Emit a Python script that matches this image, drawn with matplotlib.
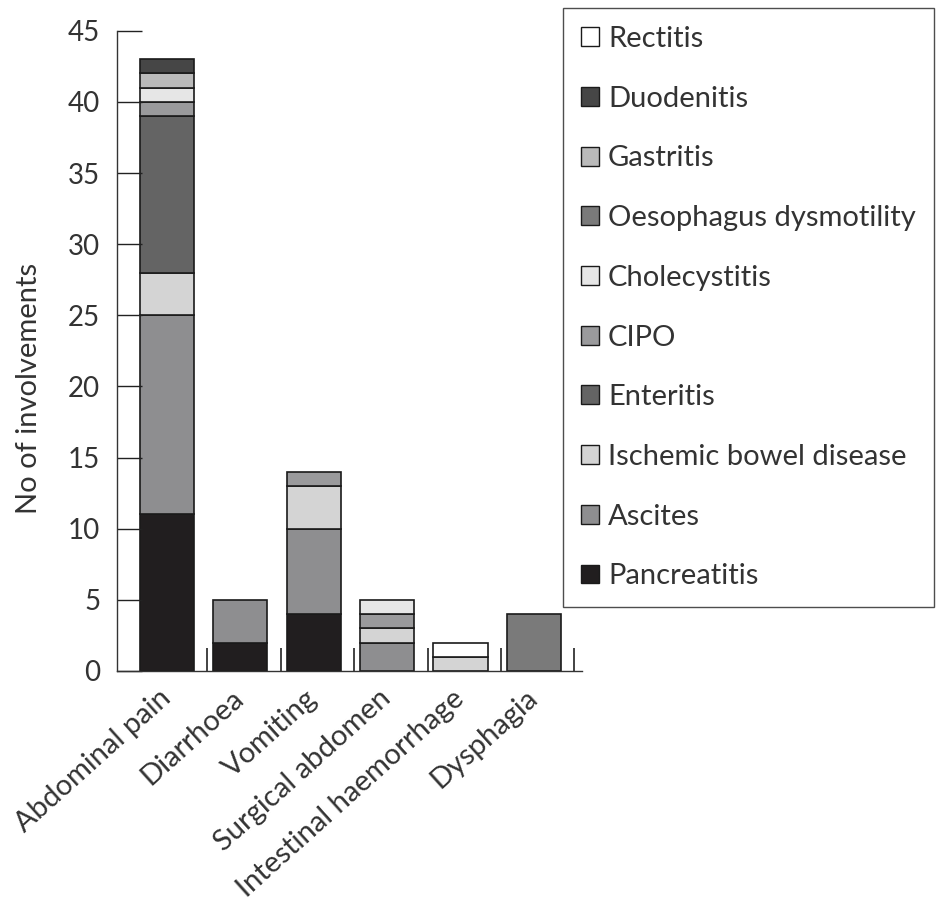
import numpy as np
import matplotlib
matplotlib.use("Agg")
from matplotlib import pyplot as plt
from matplotlib.patches import Patch

plt.rcParams['font.family'] = ['Lato', 'DejaVu Sans']

# categories on the x axis
categories = ['Abdominal pain', 'Diarrhoea', 'Vomiting', 'Surgical abdomen',
              'Intestinal haemorrhage', 'Dysphagia']

# stacked components, bottom to top
pancreatitis = [11, 2, 4, 0, 0, 0]
ascites = [14, 3, 6, 2, 0, 0]
ischemic = [3, 0, 3, 1, 1, 0]
enteritis = [11, 0, 0, 0, 0, 0]
cipo = [1, 0, 1, 1, 0, 0]
cholecystitis = [1, 0, 0, 1, 0, 0]
oesophagus = [0, 0, 0, 0, 0, 4]
gastritis = [1, 0, 0, 0, 0, 0]
duodenitis = [1, 0, 0, 0, 0, 0]
rectitis = [0, 0, 0, 0, 1, 0]

series = [
    ('Pancreatitis', pancreatitis, '#211e1f'),
    ('Ascites', ascites, '#8e8e90'),
    ('Ischemic bowel disease', ischemic, '#d4d4d4'),
    ('Enteritis', enteritis, '#646464'),
    ('CIPO', cipo, '#9a9a9c'),
    ('Cholecystitis', cholecystitis, '#e6e6e6'),
    ('Oesophagus dysmotility', oesophagus, '#7a7a7a'),
    ('Gastritis', gastritis, '#bababa'),
    ('Duodenitis', duodenitis, '#464646'),
    ('Rectitis', rectitis, '#ffffff'),
]

fig = plt.figure(figsize=(9.43, 9.01), dpi=100)
ax = fig.add_axes([0.124, 0.2553, 0.493, 0.7106])

x = np.arange(len(categories))
bottom = np.zeros(len(categories))
for name, vals, col in series:
    vals = np.array(vals, dtype=float)
    idx = np.where(vals > 0)[0]
    ax.bar(x[idx], vals[idx], width=0.74, bottom=bottom[idx], color=col,
           edgecolor='#1a1a1a', linewidth=1.2)
    bottom += vals

ax.set_xlim(-0.68, 5.65)
ax.set_ylim(0, 45)
ax.set_yticks(np.arange(0, 46, 5))
ax.set_xticks(x)
ax.set_xticklabels(categories, rotation=42, ha='right', va='center',
                   rotation_mode='anchor', fontsize=21, color='#333333')
ax.set_xticks(x + 0.55, minor=True)
ax.tick_params(axis='x', which='major', length=0, pad=17)
ax.tick_params(axis='x', which='minor', direction='in', length=16.5, width=1.2,
               color='#222222')
ax.tick_params(axis='y', direction='in', length=18, width=1.0, pad=12,
               labelsize=20, labelcolor='#333333', color='#222222')
for s in ['top', 'right']:
    ax.spines[s].set_visible(False)
for s in ['left', 'bottom']:
    ax.spines[s].set_linewidth(1.0)
    ax.spines[s].set_color('#333333')

ax.set_ylabel('No of involvements', fontsize=21, color='#333333')
ax.yaxis.set_label_coords(-0.161, 0.442)

handles = [Patch(facecolor=col, edgecolor='#1a1a1a', linewidth=1.0, label=name)
           for name, vals, col in series[::-1]]
leg = fig.legend(handles=handles, loc='upper left',
                 bbox_to_anchor=(563 / 943, 1 - 8 / 901), fontsize=21,
                 frameon=True, fancybox=False, edgecolor='#222222',
                 handlelength=0.62, handleheight=0.62, handletextpad=0.3,
                 labelspacing=1.155, borderpad=0.62, borderaxespad=0)
leg.get_frame().set_linewidth(1.0)
for t in leg.get_texts():
    t.set_color('#333333')

fig.savefig('out.png', dpi=100)
